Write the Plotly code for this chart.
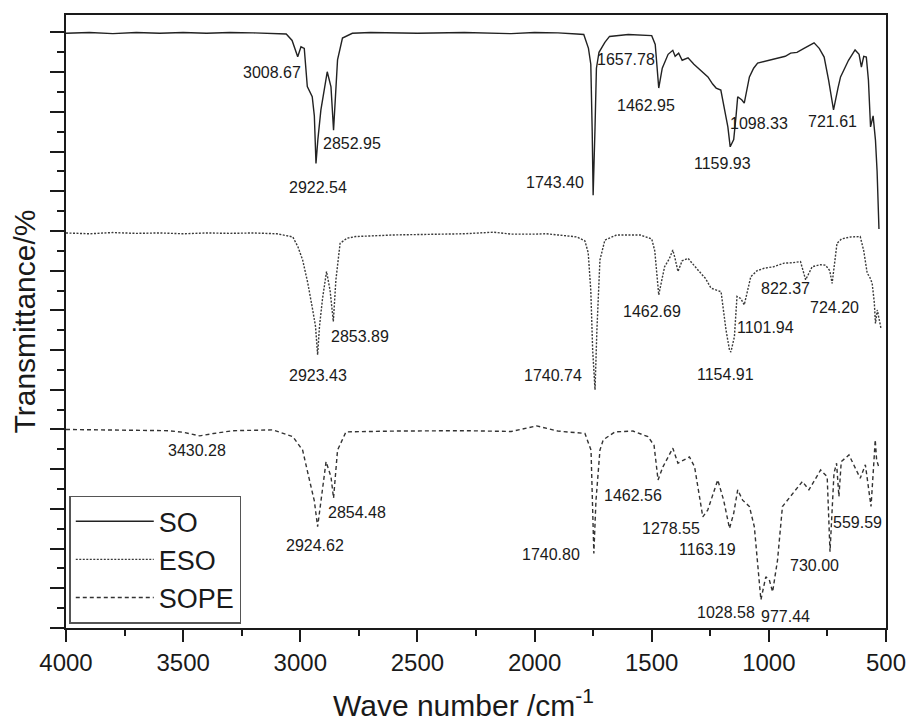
import plotly.graph_objects as go

# ---------------- data ----------------
so_wn = [4000, 3900, 3800, 3700, 3600, 3500, 3400, 3300, 3200, 3100, 3060, 3035, 3025, 3011,
         2997, 2983, 2970, 2949, 2940, 2933, 2925, 2912, 2885, 2869, 2858, 2850, 2841,
         2820, 2778, 2700, 2500, 2300, 2100, 2000, 1900, 1820, 1790, 1770, 1760, 1754, 1750,
         1742, 1736, 1725, 1700, 1680, 1600, 1500, 1485, 1470, 1455, 1430, 1410, 1400, 1385,
         1370, 1345, 1320, 1290, 1260, 1240, 1225, 1205, 1190, 1175, 1165, 1150, 1140, 1133,
         1115, 1105, 1083, 1065, 1048, 1000, 950, 930, 907, 880, 850, 807, 785, 764, 745,
         724, 705, 694, 660, 632, 615, 605, 595, 584, 575, 566, 555, 545, 538, 530]
so_t = [14.98, 15.0, 14.97, 15.0, 14.98, 15.0, 14.98, 15.0, 14.99, 14.98, 14.96, 14.8, 14.64, 14.39,
        14.64, 14.6, 13.64, 13.38, 12.9, 11.7, 12.3, 13.05, 14.01, 13.63, 12.54, 13.35, 14.31,
        14.86, 14.98, 15.0, 14.98, 15.0, 14.97, 15.0, 14.99, 14.96, 14.95, 14.6, 14.2, 12.5, 10.9,
        12.6, 14.1, 14.5, 14.75, 14.9, 14.95, 14.92, 14.7, 13.6, 14.1, 14.45, 14.55, 14.4, 14.48,
        14.3, 14.36, 14.2, 14.05, 13.88, 13.7, 13.6, 13.55, 13.05, 12.62, 12.12, 12.3, 12.9, 13.38,
        13.3, 13.22, 13.88, 14.1, 14.23, 14.3, 14.36, 14.4, 14.48, 14.5, 14.6, 14.74, 14.6, 14.38, 13.8,
        13.05, 13.6, 13.88, 14.3, 14.56, 14.45, 14.13, 14.4, 14.38, 13.8, 12.62, 12.9, 12.29, 11.5, 10.05]

eso_wn = [4000, 3900, 3800, 3700, 3600, 3500, 3400, 3300, 3200, 3100, 3032, 3010, 2990, 2968,
          2947, 2935, 2926, 2918, 2905, 2888, 2873, 2859, 2848, 2830, 2800, 2763, 2600,
          2400, 2300, 2175, 2100, 2000, 1950, 1900, 1820, 1785, 1771, 1760, 1752, 1742, 1734,
          1721, 1700, 1650, 1550, 1500, 1487, 1470, 1445, 1425, 1410, 1400, 1388, 1370, 1345,
          1300, 1270, 1247, 1215, 1204, 1183, 1168, 1162, 1147, 1136, 1120, 1105, 1077, 1050,
          1020, 980, 935, 900, 865, 843, 815, 780, 758, 740, 730, 709, 690, 650, 610, 595, 580,
          570, 559, 550, 545, 537, 522]
eso_t = [9.95, 9.93, 9.96, 9.94, 9.95, 9.93, 9.95, 9.94, 9.95, 9.93, 9.85, 9.6, 9.27, 8.69,
         8.01, 7.6, 6.88, 7.6, 8.3, 8.98, 8.51, 7.72, 8.77, 9.69, 9.82, 9.86, 9.9,
         9.92, 9.93, 9.97, 9.92, 9.92, 9.93, 9.9, 9.85, 9.75, 9.45, 8.5, 7.0, 6.0, 7.5,
         9.27, 9.77, 9.9, 9.9, 9.8, 9.5, 8.39, 9.1, 9.3, 9.52, 9.3, 8.98, 9.25, 9.31,
         9.0, 8.8, 8.56, 8.5, 8.47, 7.51, 7.0, 6.95, 7.34, 8.35, 8.3, 8.14, 8.85, 9.0,
         9.06, 9.1, 9.19, 9.2, 9.23, 8.77, 9.1, 9.15, 9.14, 9.0, 8.68, 9.69, 9.8, 9.85, 9.86, 9.5, 8.93,
         8.85, 8.68, 8.2, 7.67, 8.01, 7.56]

sope_wn = [4000, 3800, 3564, 3500, 3429, 3370, 3287, 3200, 3117, 3032, 2990, 2961, 2940, 2926,
           2912, 2890, 2869, 2858, 2841, 2805, 2600, 2300, 2100, 1991, 1900, 1785, 1759, 1752,
           1747, 1738, 1721, 1707, 1657, 1580, 1516, 1490, 1473, 1452, 1410, 1388, 1339, 1317,
           1282, 1261, 1218, 1193, 1168, 1150, 1133, 1112, 1083, 1062, 1048, 1034, 1013,
           998, 984, 963, 942, 921, 857, 829, 779, 751, 745, 739, 722, 711, 701, 691, 658, 610,
           588, 574, 564, 553, 546, 540, 529]
sope_t = [5.0, 4.98, 4.97, 4.93, 4.84, 4.9, 4.97, 4.98, 4.99, 4.82, 4.48, 3.73, 3.2, 2.55,
          3.22, 4.19, 3.81, 3.27, 4.48, 4.94, 4.96, 4.97, 4.95, 5.09, 4.96, 4.9, 4.48, 3.2,
          1.88, 3.2, 4.48, 4.74, 4.94, 4.96, 4.82, 4.6, 3.73, 4.06, 4.53, 4.15, 4.31, 4.06,
          2.8, 2.97, 3.73, 3.22, 2.51, 2.89, 3.48, 3.22, 3.06, 2.55, 1.54, 0.71, 1.29,
          1.21, 0.91, 1.71, 3.06, 3.22, 3.69, 3.48, 3.98, 3.81, 2.6, 1.92, 3.9, 4.15, 3.31, 4.19, 4.36, 3.77,
          4.11, 3.48, 3.06, 4.06, 4.74, 4.23, 4.02]

# peak labels: (text, x, y) in data units
so_labels = [("3008.67", 3119, 13.99), ("2852.95", 2778, 12.21), ("2922.54", 2925, 11.09),
             ("1743.40", 1914, 11.22), ("1657.78", 1609, 14.31), ("1462.95", 1525, 13.17),
             ("1159.93", 1197, 11.71), ("1098.33", 1042, 12.71), ("721.61", 727, 12.75)]
eso_labels = [("2853.89", 2745, 7.34), ("2923.43", 2924, 6.36), ("1740.74", 1920, 6.36),
              ("1462.69", 1497, 7.97), ("1154.91", 1183, 6.39), ("1101.94", 1014, 7.57),
              ("822.37", 931, 8.54), ("724.20", 720, 8.07)]
sope_labels = [("3430.28", 3441, 4.46), ("2854.48", 2759, 2.90), ("2924.62", 2937, 2.09),
               ("1740.80", 1932, 1.86), ("1462.56", 1579, 3.35), ("1278.55", 1418, 2.51),
               ("1163.19", 1262, 1.98), ("1028.58", 1185, 0.40), ("977.44", 929, 0.30),
               ("730.00", 806, 1.57), ("559.59", 620, 2.66)]

x_ticks = [4000, 3500, 3000, 2500, 2000, 1500, 1000, 500]

FONT = "Liberation Sans, Arial, sans-serif"
INK = "#1a1a1a"

fig = go.Figure()
fig.add_trace(go.Scatter(x=so_wn, y=so_t, mode="lines", name="SO",
                         line=dict(color="#222222", width=1.4, dash="solid")))
fig.add_trace(go.Scatter(x=eso_wn, y=eso_t, mode="lines", name="ESO",
                         line=dict(color="#3a3a3a", width=1.4, dash="2px,1.5px")))
fig.add_trace(go.Scatter(x=sope_wn, y=sope_t, mode="lines", name="SOPE",
                         line=dict(color="#333333", width=1.4, dash="4px,3px")))

annotations = []
for lab in (so_labels, eso_labels, sope_labels):
    for txt, xv, yv in lab:
        annotations.append(dict(x=xv, y=yv, xref="x", yref="y", text=txt, showarrow=False,
                                font=dict(family=FONT, size=16, color=INK)))

fig.update_layout(
    width=911, height=722,
    margin=dict(l=66, r=25, t=15, b=94, autoexpand=False),
    paper_bgcolor="white", plot_bgcolor="white",
    font=dict(family=FONT, color=INK),
    showlegend=True,
    legend=dict(x=0.004, y=0.007, xanchor="left", yanchor="bottom",
                bgcolor="white", bordercolor="#555555", borderwidth=1.5,
                font=dict(family=FONT, size=27, color=INK),
                itemwidth=78, tracegroupgap=0),
    annotations=annotations,
)

fig.update_xaxes(
    range=[4000, 500], tickvals=x_ticks, ticktext=[str(v) for v in x_ticks],
    showgrid=False, zeroline=False, automargin=False,
    showline=True, linecolor=INK, linewidth=2, mirror=True,
    ticks="outside", ticklen=12, tickwidth=2, tickcolor=INK,
    minor=dict(ticks="outside", ticklen=6, tickwidth=2, tickcolor=INK, dtick=250, tick0=500),
    tickfont=dict(family=FONT, size=24, color=INK),
    title=dict(text="Wave number /cm<sup>-1</sup>&nbsp;&nbsp;&nbsp;",
               font=dict(family=FONT, size=30, color=INK), standoff=22),
)
fig.update_yaxes(
    range=[0, 15.44], dtick=1, tick0=0, showticklabels=False,
    showgrid=False, zeroline=False, automargin=False,
    showline=True, linecolor=INK, linewidth=2, mirror=True,
    ticks="outside", ticklen=14, tickwidth=2, tickcolor=INK,
    minor=dict(ticks="outside", ticklen=7, tickwidth=2, tickcolor=INK, dtick=0.5),
    title=dict(text="Transmittance/%", font=dict(family=FONT, size=30, color=INK), standoff=6),
)

fig.write_html("out.html", config={"displayModeBar": False},
               post_script="document.body.style.margin='0px';document.body.style.overflow='hidden';")
